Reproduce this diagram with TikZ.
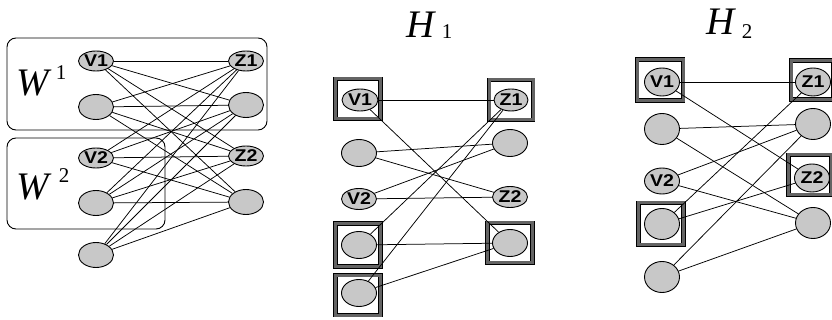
\documentclass[tikz,border=0pt]{standalone}
\usepackage{fontspec}
\setmainfont{Liberation Serif}
\setsansfont{Liberation Sans}
\usetikzlibrary{shapes.geometric,backgrounds}
\definecolor{nodegray}{RGB}{200,200,200}
\definecolor{framegray}{RGB}{100,100,100}
\tikzset{
  vtx/.style={ellipse, draw=black, line width=0.9pt, fill=nodegray, inner sep=0pt},
  lab/.style={vtx, minimum height=20pt},
  unl/.style={vtx, minimum height=25pt},
  edge/.style={line width=0.75pt, black},
  hframe/.style={draw=black, line width=0.6pt, double=framegray, double distance=3pt,
    minimum width=#1, inner sep=0pt},
  grp/.style={draw=black, line width=0.9pt, rounded corners=9pt},
  title/.style={font=\itshape\fontsize{39}{39}\selectfont, inner sep=0pt},
  sub/.style={font=\fontsize{21}{21}\selectfont, inner sep=0pt}
}
\newcommand{\vl}[1]{\scalebox{1.15}[1]{\sffamily\bfseries\fontsize{17}{17}\selectfont #1}}
\begin{document}
\begin{tikzpicture}[x=1pt,y=-1pt]
\useasboundingbox (0,0) rectangle (832,320);
% ---------- left graph ----------
\node[title] (w1) at (33,83) {W};
\node[sub] (w1s) at (61,73) {1};
\node[title] (w2) at (33,187) {W};
\node[sub] (w2s) at (64,176) {2};
\node[lab, minimum width=35pt] (a1) at (96,61) {\vl{V1}};
\node[unl, minimum width=35pt] (a2) at (96,107) {};
\node[lab, minimum width=35pt] (a3) at (96,158) {\vl{V2}};
\node[unl, minimum width=35pt] (a4) at (96,203) {};
\node[unl, minimum width=35pt] (a5) at (96,255) {};
\node[lab, minimum width=35pt] (b1) at (246,61) {\vl{Z1}};
\node[unl, minimum width=35pt] (b2) at (246,105) {};
\node[lab, minimum width=35pt] (b3) at (246,156) {\vl{Z2}};
\node[unl, minimum width=35pt] (b4) at (246,202) {};
\begin{scope}[on background layer]
\draw[grp] (7,38) rectangle (267,130);
\draw[grp] (7,138) rectangle (165,229);
\foreach \i in {1,...,5}{\foreach \j in {1,...,4}{\draw[edge] (a\i) -- (b\j);}}
\end{scope}
% ---------- H1 ----------
\node[title] (h1) at (421,25) {H};
\node[sub] (h1s) at (447,32) {1};
\node[hframe=45pt, minimum height=40pt] (f11) at (358,99) {};
\node[hframe=45pt, minimum height=43pt] (f14) at (358,245) {};
\node[hframe=45pt, minimum height=40pt] (f15) at (358,295) {};
\node[hframe=44pt, minimum height=40pt] (f21) at (511,100) {};
\node[hframe=45pt, minimum height=40pt] (f24) at (510,243) {};
\node[lab, minimum width=36pt, minimum height=22pt] (c1) at (360,100) {\vl{V1}};
\node[unl, minimum width=35pt, minimum height=27pt] (c2) at (359,153) {};
\node[lab, minimum width=35pt, minimum height=21pt] (c3) at (359,199) {\vl{V2}};
\node[unl, minimum width=35pt, minimum height=27pt] (c4) at (359,245) {};
\node[unl, minimum width=35pt, minimum height=27pt] (c5) at (359,293) {};
\node[lab, minimum width=34pt, minimum height=22pt] (d1) at (511,100) {\vl{Z1}};
\node[unl, minimum width=35pt, minimum height=27pt] (d2) at (510,143) {};
\node[lab, minimum width=35pt, minimum height=21pt] (d3) at (510,197) {\vl{Z2}};
\node[unl, minimum width=35pt, minimum height=27pt] (d4) at (510,243) {};
\foreach \i/\j in {1/1,1/4,2/2,2/3,3/2,3/3,4/1,4/4,5/1,5/4}{\draw[edge] (c\i) -- (d\j);}
% ---------- H2 ----------
\node[title] (h2) at (721,22) {H};
\node[sub] (h2s) at (747,32) {2};
\node[hframe=46pt, minimum height=41pt] (g11) at (660,80) {};
\node[hframe=45pt, minimum height=42pt] (g14) at (661,224) {};
\node[hframe=42pt, minimum height=39pt] (g21) at (812,80) {};
\node[hframe=43pt, minimum height=40pt] (g23) at (810,175) {};
\node[lab, minimum width=35pt, minimum height=28pt] (e1) at (662,82) {\vl{V1}};
\node[unl, minimum width=35pt, minimum height=31pt] (e2) at (662,129) {};
\node[lab, minimum width=35pt, minimum height=26pt] (e3) at (662,181) {\vl{V2}};
\node[unl, minimum width=35pt, minimum height=31pt] (e4) at (662,224) {};
\node[unl, minimum width=35pt, minimum height=31pt] (e5) at (662,277) {};
\node[lab, minimum width=35pt, minimum height=28pt] (k1) at (813,82) {\vl{Z1}};
\node[unl, minimum width=35pt, minimum height=31pt] (k2) at (813,124) {};
\node[lab, minimum width=35pt, minimum height=28pt] (k3) at (812,178) {\vl{Z2}};
\node[unl, minimum width=35pt, minimum height=31pt] (k4) at (813,223) {};
\foreach \i/\j in {1/1,1/3,2/2,2/4,3/2,3/4,4/1,4/3,5/2,5/4}{\draw[edge] (e\i) -- (k\j);}
\end{tikzpicture}
\end{document}
